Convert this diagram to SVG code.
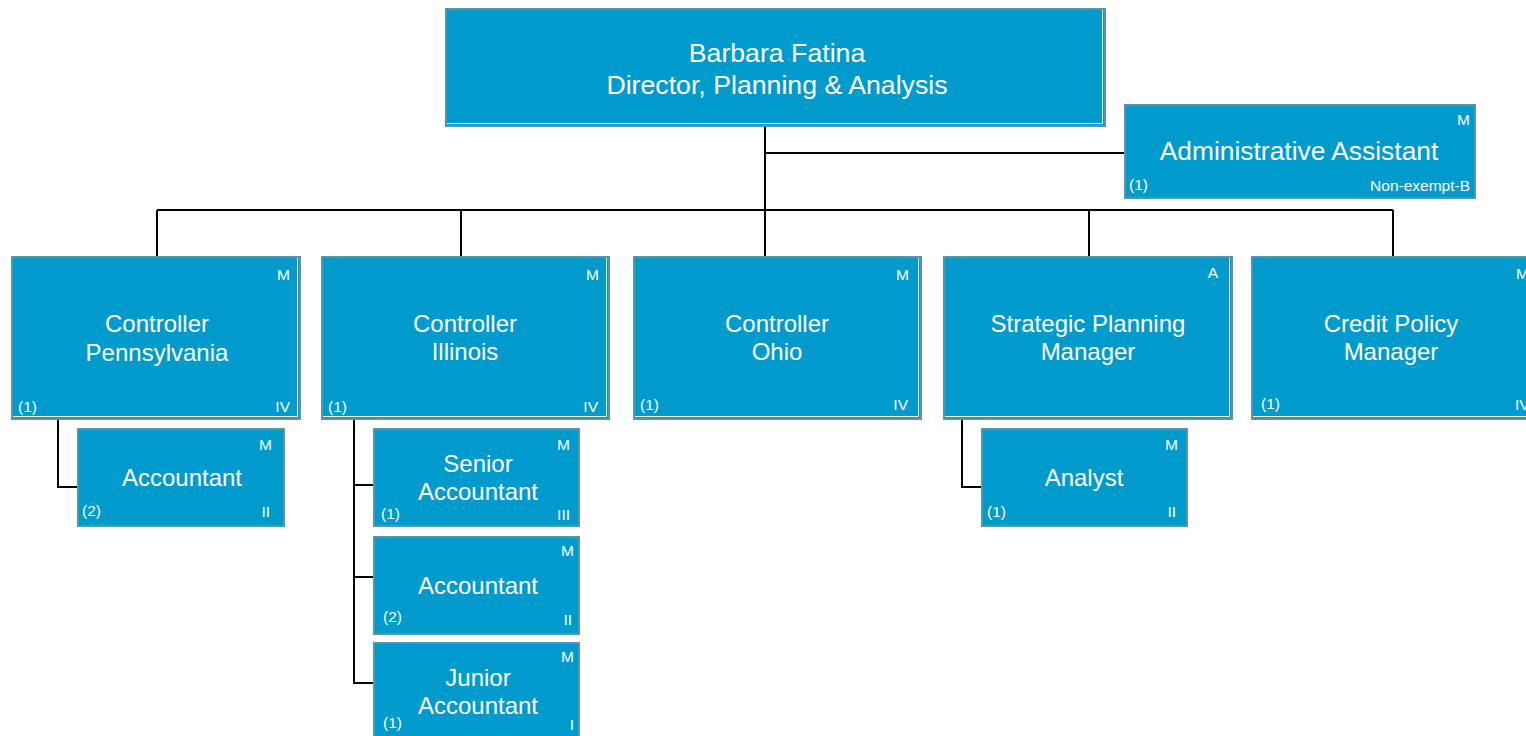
<svg xmlns="http://www.w3.org/2000/svg" width="1526" height="736" viewBox="0 0 1526 736">
<style>
.box{fill:#009BCC;stroke:#5A93AD;stroke-width:2}
.hl{fill:none;stroke:#FFFFFF;stroke-width:1}
.t{font-family:"Liberation Sans",Arial,sans-serif;fill:#FFFFFF;text-anchor:middle}
.big{font-size:24px}
.top{font-size:26.7px}
.adm{font-size:26.4px}
.s{font-family:"Liberation Sans",Arial,sans-serif;fill:#FFFFFF;font-size:15.5px}
.r{text-anchor:end}
.c{fill:none;stroke:#000000;stroke-width:2}
</style>
<rect width="1526" height="736" fill="#FFFFFF"/>
<g id="connectors">
<path class="c" d="M765 126V257M765 153H1125M157 210H1393M157 210V257M461 210V257M1089 210V257M1393 210V257"/>
<path class="c" d="M58 419V487H78"/>
<path class="c" d="M354 419V683H374M354 485H374M354 577H374"/>
<path class="c" d="M962 419V487H982"/>
</g>
<g id="director">
<rect class="box" x="446" y="9" width="659" height="117"/>
<path class="hl" d="M447 123.5H1102.5V10"/>
<text class="t top" x="777" y="62">Barbara Fatina</text>
<text class="t top" x="777" y="94">Director, Planning &amp; Analysis</text>
</g>
<g id="admin">
<rect class="box" x="1125" y="105" width="350" height="93"/>
<text class="t adm" x="1299" y="160">Administrative Assistant</text>
<text class="s r" x="1470" y="125">M</text>
<text class="s" x="1129" y="190">(1)</text>
<text class="s r" x="1470" y="191">Non-exempt-B</text>
</g>
<g id="ctrl-pa">
<rect class="box" x="12" y="257" width="288" height="162"/>
<path class="hl" d="M13 416.5H297.5V258"/>
<text class="t big" x="157" y="332">Controller</text>
<text class="t big" x="157" y="361">Pennsylvania</text>
<text class="s r" x="290" y="280">M</text>
<text class="s" x="18" y="412">(1)</text>
<text class="s r" x="290" y="412">IV</text>
</g>
<g id="ctrl-il">
<rect class="box" x="322" y="257" width="287" height="162"/>
<path class="hl" d="M323 416.5H606.5V258"/>
<text class="t big" x="465" y="332">Controller</text>
<text class="t big" x="465" y="360">Illinois</text>
<text class="s r" x="599" y="280">M</text>
<text class="s" x="328" y="412">(1)</text>
<text class="s r" x="598" y="412">IV</text>
</g>
<g id="ctrl-oh">
<rect class="box" x="634" y="257" width="287" height="162"/>
<path class="hl" d="M635 416.5H918.5V258"/>
<text class="t big" x="777" y="332">Controller</text>
<text class="t big" x="777" y="360">Ohio</text>
<text class="s r" x="909" y="280">M</text>
<text class="s" x="640" y="410">(1)</text>
<text class="s r" x="908" y="410">IV</text>
</g>
<g id="spm">
<rect class="box" x="944" y="257" width="288" height="162"/>
<path class="hl" d="M945 416.5H1229.5V258"/>
<text class="t big" x="1088" y="332">Strategic Planning</text>
<text class="t big" x="1088" y="360">Manager</text>
<text class="s r" x="1218" y="278">A</text>
</g>
<g id="cpm">
<rect class="box" x="1252" y="257" width="288" height="162"/>
<path class="hl" d="M1253 416.5H1537.5V258"/>
<text class="t big" x="1391" y="332">Credit Policy</text>
<text class="t big" x="1391" y="360">Manager</text>
<text class="s" x="1516" y="279">M</text>
<text class="s" x="1261" y="409">(1)</text>
<text class="s" x="1515" y="410">IV</text>
</g>
<g id="acc-pa">
<rect class="box" x="78" y="429" width="206" height="97"/>
<text class="t big" x="182" y="486">Accountant</text>
<text class="s r" x="272" y="450">M</text>
<text class="s" x="82" y="516">(2)</text>
<text class="s r" x="270" y="517">II</text>
</g>
<g id="senior-acc">
<rect class="box" x="374" y="429" width="205" height="97"/>
<text class="t big" x="478" y="472">Senior</text>
<text class="t big" x="478" y="500">Accountant</text>
<text class="s r" x="570" y="450">M</text>
<text class="s" x="381" y="519">(1)</text>
<text class="s r" x="570" y="520">III</text>
</g>
<g id="acc-il">
<rect class="box" x="374" y="537" width="205" height="97"/>
<text class="t big" x="478" y="594">Accountant</text>
<text class="s r" x="574" y="556">M</text>
<text class="s" x="383" y="622">(2)</text>
<text class="s r" x="572" y="625">II</text>
</g>
<g id="junior-acc">
<rect class="box" x="374" y="643" width="205" height="97"/>
<text class="t big" x="478" y="686">Junior</text>
<text class="t big" x="478" y="714">Accountant</text>
<text class="s r" x="574" y="662">M</text>
<text class="s" x="383" y="728">(1)</text>
<text class="s r" x="574" y="730">I</text>
</g>
<g id="analyst">
<rect class="box" x="982" y="429" width="205" height="97"/>
<text class="t big" x="1084" y="486">Analyst</text>
<text class="s r" x="1178" y="450">M</text>
<text class="s" x="987" y="517">(1)</text>
<text class="s r" x="1176" y="517">II</text>
</g>
</svg>
